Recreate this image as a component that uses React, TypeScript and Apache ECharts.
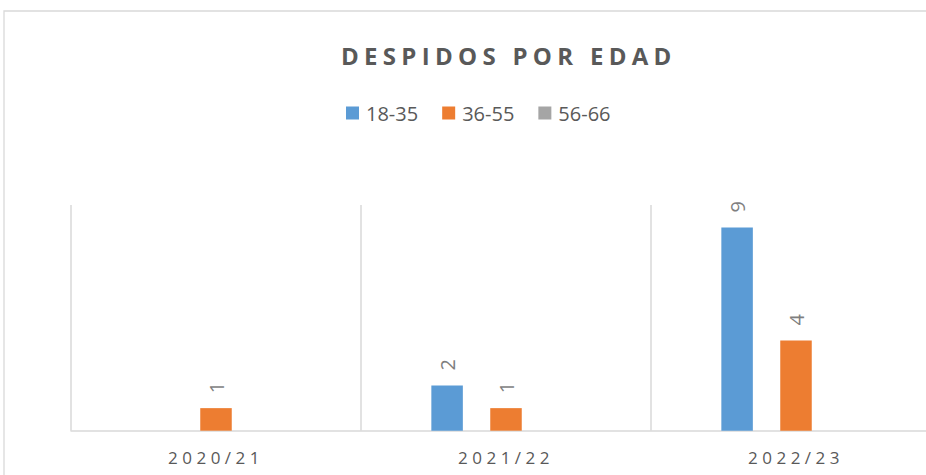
import React, { useEffect, useRef } from "react";
import * as echarts from "echarts";

const categories = ["2020/21", "2021/22", "2022/23"];
const seriesNames = ["18-35", "36-55", "56-66"];
const values1835 = [0, 2, 9];
const values3655 = [1, 1, 4];
const values5666 = [0, 0, 0];
const colors = ["#5b9bd5", "#ed7d31", "#a5a5a5"];
const titleText = "DESPIDOS POR EDAD";

const FONT = "'Open Sans', 'Liberation Sans', sans-serif";

export default function App() {
  const ref = useRef<HTMLDivElement>(null);
  useEffect(() => {
    if (!ref.current) return;
    const chart = echarts.init(ref.current, undefined, { renderer: "svg" });
    const allValues = [values1835, values3655, values5666];
    const option: any = {
      animation: false,
      graphic: [
        {
          type: "rect",
          silent: true,
          shape: { x: 4, y: 11, width: 2000, height: 1000 },
          style: { fill: "none", stroke: "#d9d9d9", lineWidth: 1.3 },
        },
      ],
      title: {
        text: titleText,
        left: 341,
        top: 43,
        padding: 0,
        textStyle: { fontFamily: FONT, fontSize: 24, fontWeight: "bold", color: "#595959" },
      },
      legend: {
        left: 346,
        top: 103,
        padding: 0,
        itemWidth: 13,
        itemHeight: 13,
        itemGap: 24,
        icon: "rect",
        selectedMode: false,
        textStyle: { fontFamily: FONT, fontSize: 20, color: "#595959", padding: [0, 0, 0, 2] },
        data: seriesNames,
      },
      grid: { left: 71, top: 205, width: 870, bottom: 44.3, containLabel: false },
      xAxis: {
        type: "category",
        data: categories,
        axisLine: { lineStyle: { color: "#d9d9d9", width: 1.5 } },
        axisTick: { show: false },
        splitLine: { show: true, lineStyle: { color: "#d9d9d9", width: 1.5 } },
        axisLabel: { fontFamily: FONT, fontSize: 17, color: "#595959", margin: 18, interval: 0 },
      },
      yAxis: {
        type: "value",
        min: 0,
        max: 10,
        show: false,
        splitLine: { show: false },
      },
      series: seriesNames.map((name, i) => ({
        name,
        type: "bar",
        data: allValues[i],
        barWidth: 31.5,
        barGap: "87%",
        itemStyle: { color: colors[i] },
        silent: true,
        label: {
          show: true,
          position: "top",
          distance: 15,
          rotate: 90,
          align: "left",
          verticalAlign: "middle",
          fontFamily: FONT,
          fontSize: 20,
          color: "#7f7f7f",
          formatter: (p: any) => (p.value ? String(p.value) : ""),
        },
      })),
    };
    chart.setOption(option);
    const applySpacing = () => {
      const texts = ref.current?.querySelectorAll("text") || [];
      texts.forEach((t: any) => {
        const c = t.textContent || "";
        if (c === titleText) {
          t.setAttribute("letter-spacing", "5.3");
        } else if (categories.includes(c)) {
          t.setAttribute("letter-spacing", "4.5");
        }
      });
    };
    applySpacing();
    chart.on("finished", applySpacing);
    return () => chart.dispose();
  }, []);
  return (
    <div style={{ position: "fixed", left: 0, top: 0, width: 926, height: 475, overflow: "hidden", background: "#fff" }}>
      <div ref={ref} style={{ width: 1015, height: 475 }} />
    </div>
  );
}
